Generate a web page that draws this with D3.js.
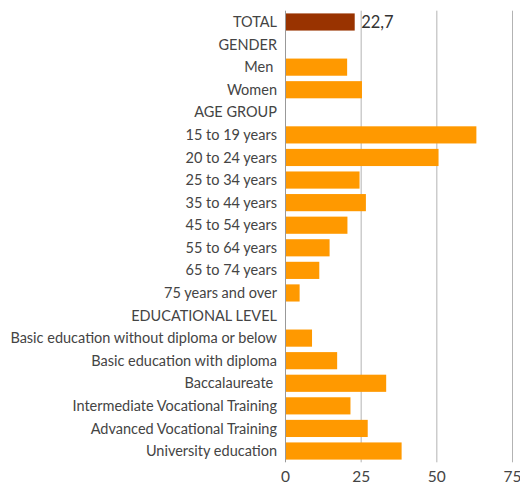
<!DOCTYPE html>
<html>
<head>
<meta charset="utf-8">
<script src="https://cdn.jsdelivr.net/npm/d3@7"></script>
<style>
  body { margin: 0; background: #fff; }
  text { font-family: Lato, sans-serif; }
</style>
</head>
<body>
<div class="display"></div>
<script>
const categories = [
  'TOTAL', 'GENDER', 'Men ', 'Women', 'AGE GROUP',
  '15 to 19 years', '20 to 24 years', '25 to 34 years', '35 to 44 years',
  '45 to 54 years', '55 to 64 years', '65 to 74 years', '75 years and over',
  'EDUCATIONAL LEVEL', 'Basic education without diploma or below',
  'Basic education with diploma', 'Baccalaureate ',
  'Intermediate Vocational Training', 'Advanced Vocational Training',
  'University education'
];
const values = [
  22.7, null, 20.2, 25.1, null,
  62.9, 50.4, 24.3, 26.4,
  20.3, 14.4, 11.0, 4.5,
  null, 8.6,
  16.9, 33.1,
  21.3, 27.0,
  38.2
];
const xTicks = [0, 25, 50, 75];
const totalLabel = '22,7';

const config = {
  width: 520,
  height: 484,
  left: 285.5,
  right: 512.5,
  top: 10.7,
  bottom: 462.3
};

const data = categories.map((c, i) => ({ name: c, value: values[i] }));

const svg = d3.select('.display')
  .append('svg')
  .attr('width', config.width)
  .attr('height', config.height);

const x = d3.scaleLinear()
  .domain([0, 75])
  .range([config.left, config.right]);

const y = d3.scaleBand()
  .domain(categories)
  .range([config.top, config.bottom])
  .paddingInner(0.24)
  .paddingOuter(0.12);

// grid lines
svg.append('g')
  .selectAll('line')
  .data(xTicks)
  .enter()
  .append('line')
  .attr('x1', d => x(d))
  .attr('x2', d => x(d))
  .attr('y1', config.top)
  .attr('y2', config.bottom)
  .attr('stroke', d => d === 0 ? '#999' : '#b3b3b3')
  .attr('stroke-width', 1);

// bars
svg.append('g')
  .selectAll('rect')
  .data(data.filter(d => d.value != null))
  .enter()
  .append('rect')
  .attr('x', x(0) + 0.5)
  .attr('y', d => y(d.name))
  .attr('width', d => x(d.value) - x(0))
  .attr('height', y.bandwidth())
  .attr('fill', d => d.name === 'TOTAL' ? '#993300' : '#ff9900');

// category labels
svg.append('g')
  .selectAll('text')
  .data(data)
  .enter()
  .append('text')
  .attr('x', 277)
  .attr('y', d => y(d.name) + y.bandwidth() / 2)
  .attr('dy', '0.35em')
  .attr('text-anchor', 'end')
  .attr('fill', '#444')
  .style('font-size', '14.5px')
  .style('white-space', 'pre')
  .text(d => d.name);

// value label on total
svg.append('text')
  .attr('x', x(values[0]) + 7)
  .attr('y', y('TOTAL') + y.bandwidth() / 2)
  .attr('dy', '0.35em')
  .attr('fill', '#333')
  .style('font-size', '16.5px')
  .text(totalLabel);

// x axis tick labels
svg.append('g')
  .selectAll('text')
  .data(xTicks)
  .enter()
  .append('text')
  .attr('x', d => x(d))
  .attr('y', 477)
  .attr('dy', '0.35em')
  .attr('text-anchor', 'middle')
  .attr('fill', '#444')
  .style('font-size', '15.5px')
  .text(d => d);
</script>
</body>
</html>
